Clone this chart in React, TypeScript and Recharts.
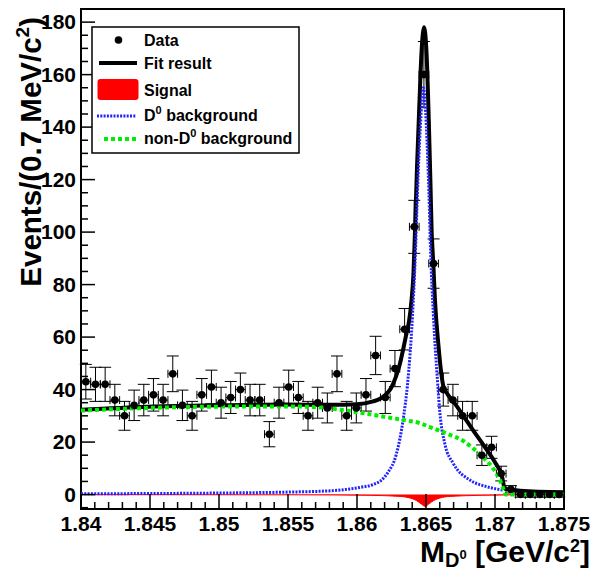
import React from 'react';
import {
  ComposedChart,
  Line,
  Area,
  Scatter,
  ErrorBar,
  XAxis,
  YAxis,
  ReferenceArea,
  Legend,
} from 'recharts';

const FONT = '"Liberation Sans", Arial, Helvetica, sans-serif';

// 50 bins of 0.7 MeV/c^2 between 1.840 and 1.875 GeV/c^2
const binCenters = [
  1.84035, 1.84105, 1.84175, 1.84245, 1.84315, 1.84385, 1.84455, 1.84525, 1.84595, 1.84665,
  1.84735, 1.84805, 1.84875, 1.84945, 1.85015, 1.85085, 1.85155, 1.85225, 1.85295, 1.85365,
  1.85435, 1.85505, 1.85575, 1.85645, 1.85715, 1.85785, 1.85855, 1.85925, 1.85995, 1.86065,
  1.86135, 1.86205, 1.86275, 1.86345, 1.86415, 1.86485, 1.86555, 1.86625, 1.86695, 1.86765,
  1.86835, 1.86905, 1.86975, 1.87045, 1.87115, 1.87185, 1.87255, 1.87325, 1.87395, 1.87465,
];
const events = [
  43, 42, 42, 36, 30, 34, 36, 38, 36, 46,
  34, 30, 38, 41, 35, 37, 40, 36, 36, 23,
  35, 41, 37, 30, 35, 33, 46, 30, 33, 38,
  53, 37, 48, 63, 102, 160, 88, 40, 36, 30,
  30, 15, 18, 8, 2, 0, 0, 0, 0, 0,
];
const eventErrors = [
  6.6, 6.5, 6.5, 6, 5.5, 5.8, 6, 6.2, 6, 6.8,
  5.8, 5.5, 6.2, 6.4, 5.9, 6.1, 6.3, 6, 6, 4.8,
  5.9, 6.4, 6.1, 5.5, 5.9, 5.7, 6.8, 5.5, 5.7, 6.2,
  7.3, 6.1, 6.9, 7.9, 10.1, 12.6, 9.4, 6.3, 6, 5.5,
  5.5, 3.9, 4.2, 2.8, 1.4, 1, 1, 1, 1, 1,
];
const HALF_BIN = 0.00035;

// total fit
const fitX = [
  1.84, 1.84486, 1.84986, 1.85478, 1.85804, 1.86, 1.86116, 1.86167, 1.8621, 1.86246,
  1.86283, 1.86312, 1.86333, 1.86355, 1.86377, 1.86395, 1.86409, 1.8642, 1.86435, 1.86453,
  1.86467, 1.86486, 1.86504, 1.8652, 1.86533, 1.86541, 1.86553, 1.86565, 1.86589, 1.86609,
  1.86625, 1.86659, 1.86698, 1.8677, 1.86843, 1.86928, 1.87, 1.87049, 1.87072, 1.87181, 1.875,
];
const fitY = [
  32.3, 33.5, 34.0, 34.3, 34.2, 34.4, 35.5, 36.5, 38.2, 40.5,
  45, 50, 55, 60.5, 66, 74, 84, 100, 125, 150,
  168, 178, 168, 143, 117, 100, 88, 74, 57.5, 47,
  41.5, 38, 35.5, 30, 24.4, 18, 12.3, 7.3, 2.2, 1.5, 0.9,
];

// D0 background
const d0BkgX = [
  1.84, 1.85029, 1.85464, 1.85826, 1.86029, 1.86116, 1.86188, 1.86225, 1.86283, 1.86337,
  1.86366, 1.86402, 1.86424, 1.86438, 1.86459, 1.86481, 1.86503, 1.86521, 1.86533, 1.86554,
  1.86583, 1.86601, 1.86638, 1.86696, 1.86819, 1.8694, 1.87061,
];
const d0BkgY = [
  0.3, 0.6, 0.9, 1.5, 2.8, 3.8, 6, 8.5, 15, 29.5,
  42, 68, 93, 115, 140, 155, 140, 115, 93, 68,
  43.5, 31, 19, 12, 5.5, 3, 1.7,
];

// non-D0 background
const nonD0X = [
  1.84, 1.84486, 1.84986, 1.85478, 1.8571, 1.85877, 1.86, 1.86116, 1.86239, 1.86362,
  1.86457, 1.86529, 1.86652, 1.86768, 1.86833, 1.86906, 1.86986, 1.87036, 1.87058, 1.87076, 1.875,
];
const nonD0Y = [
  32.0, 33.0, 33.5, 33.6, 33.3, 32.3, 31.4, 30.4, 29.3, 28.2,
  27.2, 25.7, 23.2, 20.5, 18, 14.5, 10, 5.5, 2.5, 0, 0,
];

// signal (drawn as filled area)
const signalX = [
  1.84, 1.85587, 1.86094, 1.86312, 1.86384, 1.86428, 1.86464, 1.86493, 1.86522, 1.86558,
  1.86601, 1.86674, 1.86891, 1.87072, 1.875,
];
const signalY = [
  -0.05, -0.1, -0.3, -0.7, -1.3, -2.2, -3.5, -4.5, -3.5, -2.2,
  -1.3, -0.7, -0.3, -0.15, -0.05,
];

const xMajorTicks = [1.84, 1.845, 1.85, 1.855, 1.86, 1.865, 1.87, 1.875];
const xTickLabels = ['1.84', '1.845', '1.85', '1.855', '1.86', '1.865', '1.87', '1.875'];
const yMajorTicks = [0, 20, 40, 60, 80, 100, 120, 140, 160, 180];

const xTicks = Array.from({ length: 36 }, (_, i) => Math.round((1.84 + i * 0.001) * 1000) / 1000);
const yTicks = Array.from({ length: 38 }, (_, i) => -5 + i * 5);

const dataPoints = binCenters.map((x, i) => ({ x, y: events[i], ey: eventErrors[i], ex: HALF_BIN }));
const toCurve = (xs: number[], ys: number[]) => xs.map((x, i) => ({ x, y: ys[i] }));

const XTick = (props: any) => {
  const { x, y, payload } = props;
  const idx = xMajorTicks.findIndex((v) => Math.abs(v - payload.value) < 1e-6);
  const major = idx >= 0;
  return (
    <g>
      <line x1={x} x2={x} y1={y} y2={y - (major ? 15 : 7)} stroke="#000" strokeWidth={1.5} />
      {major && (
        <text x={x} y={y + 22} textAnchor="middle" fontFamily={FONT} fontWeight="bold" fontSize={21} fill="#000">
          {xTickLabels[idx]}
        </text>
      )}
    </g>
  );
};

const YTick = (props: any) => {
  const { x, y, payload } = props;
  const major = yMajorTicks.includes(payload.value);
  return (
    <g>
      <line x1={x} x2={x + (major ? 14 : 7)} y1={y} y2={y} stroke="#000" strokeWidth={1.5} />
      {major && (
        <text x={x - 5} y={y + 7} textAnchor="end" fontFamily={FONT} fontWeight="bold" fontSize={21} fill="#000">
          {payload.value}
        </text>
      )}
    </g>
  );
};

const YTitle = () => (
  <text
    transform="translate(41,17) rotate(-90)"
    textAnchor="end"
    fontFamily={FONT}
    fontWeight="bold"
    fontSize={29.5}
    fill="#000"
  >
    Events/(0.7 MeV/c
    <tspan dy={-12} fontSize={19}>2</tspan>
    <tspan dy={12}>)</tspan>
  </text>
);

const XTitle = () => (
  <text x={590} y={562} textAnchor="end" fontFamily={FONT} fontWeight="bold" fontSize={30} fill="#000">
    M
    <tspan dy={5} fontSize={20}>D</tspan>
    <tspan dy={-8} fontSize={13}>0</tspan>
    <tspan dy={3}> [GeV/c</tspan>
    <tspan dy={-10} fontSize={18}>2</tspan>
    <tspan dy={10}>]</tspan>
  </text>
);

const LegendBox = () => {
  const txt = { fontFamily: FONT, fontWeight: 'bold' as const, fontSize: 16, fill: '#000' };
  return (
    <svg width={209} height={128}>
      <rect x={1} y={1} width={207} height={126} fill="#fff" stroke="#000" strokeWidth={1.5} />
      <circle cx={27.5} cy={14} r={3.8} fill="#000" />
      <text x={53} y={19.7} {...txt}>Data</text>
      <line x1={8} x2={46} y1={37} y2={37} stroke="#000" strokeWidth={4} />
      <text x={53} y={43} {...txt}>Fit result</text>
      <rect x={6.5} y={53} width={41} height={21} rx={3} fill="#ff0000" />
      <text x={53} y={69.5} {...txt}>Signal</text>
      <line x1={6} x2={45} y1={90} y2={90} stroke="#2222ff" strokeWidth={3} strokeDasharray="2 1.3" />
      <text x={53} y={94.5} {...txt}>
        D<tspan dy={-7} fontSize={11}>0</tspan>
        <tspan dy={7}> background</tspan>
      </text>
      <line x1={13} x2={45} y1={113} y2={113} stroke="#00ee00" strokeWidth={4} strokeDasharray="4 3" />
      <text x={53} y={118} {...txt}>
        non-D<tspan dy={-7} fontSize={11}>0</tspan>
        <tspan dy={7}> background</tspan>
      </text>
    </svg>
  );
};

export default function App() {
  return (
    <div style={{ position: 'absolute', left: 0, top: 0, width: 593, height: 571, background: '#fff' }}>
      <ComposedChart width={593} height={571} margin={{ top: 9, right: 29, bottom: 0, left: 0 }}>
        <XAxis
          dataKey="x"
          type="number"
          domain={[1.84, 1.875]}
          allowDataOverflow
          ticks={xTicks}
          interval={0}
          tick={<XTick />}
          tickLine={false}
          tickSize={0}
          tickMargin={0}
          axisLine={false}
          height={62}
          label={<XTitle />}
        />
        <YAxis
          type="number"
          domain={[-5.5, 185]}
          allowDataOverflow
          ticks={yTicks}
          interval={0}
          tick={<YTick />}
          tickLine={false}
          tickSize={0}
          tickMargin={0}
          axisLine={false}
          width={81}
          label={<YTitle />}
        />
        <Legend
          layout="vertical"
          align="center"
          verticalAlign="middle"
          wrapperStyle={{ left: 91, top: 26, width: 209, height: 128 }}
          content={() => <LegendBox />}
        />
        <Scatter data={dataPoints} dataKey="y" isAnimationActive={false} shape={(p: any) => <circle cx={p.cx} cy={p.cy} r={3.8} fill="#000" />}>
          <ErrorBar dataKey="ey" direction="y" width={6} stroke="#000" strokeWidth={1} />
          <ErrorBar dataKey="ex" direction="x" width={4} stroke="#000" strokeWidth={1} />
        </Scatter>
        <Line
          data={toCurve(fitX, fitY)}
          dataKey="y"
          type="monotone"
          stroke="#000"
          strokeWidth={4}
          dot={false}
          activeDot={false}
          isAnimationActive={false}
        />
        <Area
          data={toCurve(signalX, signalY)}
          dataKey="y"
          type="monotone"
          baseValue={0}
          stroke="#ff0000"
          strokeWidth={1}
          fill="#ff0000"
          fillOpacity={1}
          dot={false}
          activeDot={false}
          isAnimationActive={false}
        />
        <Line
          data={toCurve(d0BkgX, d0BkgY)}
          dataKey="y"
          type="monotone"
          stroke="#2222ff"
          strokeWidth={3}
          strokeDasharray="2 1.3"
          dot={false}
          activeDot={false}
          isAnimationActive={false}
        />
        <Line
          data={toCurve(nonD0X, nonD0Y)}
          dataKey="y"
          type="monotone"
          stroke="#00ee00"
          strokeWidth={4}
          strokeDasharray="4 3"
          dot={false}
          activeDot={false}
          isAnimationActive={false}
        />
        <ReferenceArea x1={1.84} x2={1.875} y1={-5.5} y2={185} fill="none" stroke="#000" strokeWidth={2} />
      </ComposedChart>
    </div>
  );
}
